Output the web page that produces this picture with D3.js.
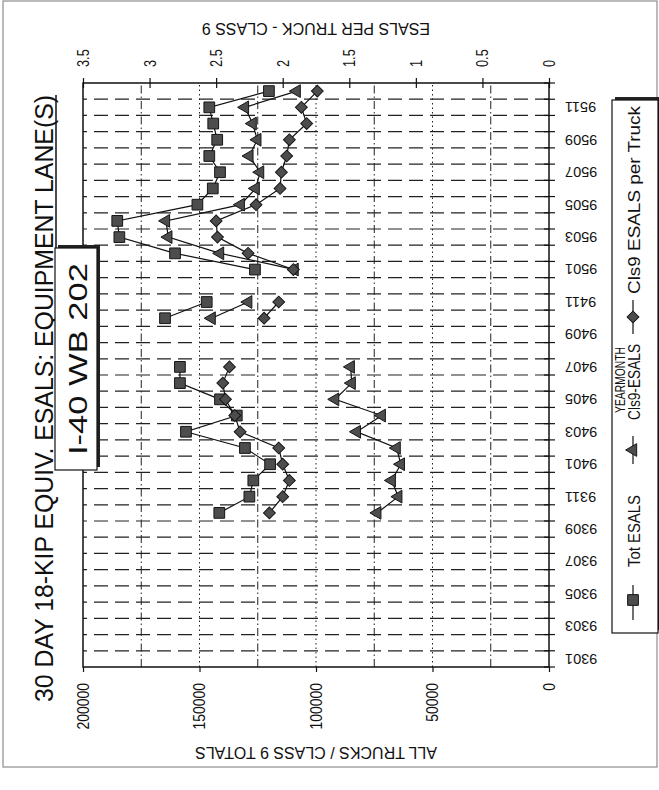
<!DOCTYPE html>
<html><head><meta charset="utf-8">
<script src="https://cdn.jsdelivr.net/npm/d3@7"></script>
<style>
body{margin:0;background:#fff}
svg{display:block}
text{font-family:"Liberation Sans",Arial,Helvetica,sans-serif;fill:#111}
</style>
</head><body>
<svg id="c" width="659" height="790"></svg>
<script>
// ---------------- DATA ----------------
const categories = ["9301","9302","9303","9304","9305","9306","9307","9308","9309","9310","9311","9312",
  "9401","9402","9403","9404","9405","9406","9407","9408","9409","9410","9411","9412",
  "9501","9502","9503","9504","9505","9506","9507","9508","9509","9510","9511","9512"];
const categoryTickLabels = ["9301","9303","9305","9307","9309","9311","9401","9403","9405","9407","9409","9411",
  "9501","9503","9505","9507","9509","9511"];
const totEsals = [null,null,null,null,null,null,null,null,null,141500,128600,126900,
  119700,130500,155800,134000,141200,158400,158400,null,null,164800,146900,null,
  126200,160500,184400,185300,150900,144300,141200,145800,142400,144100,145800,120200];
const cls9Esals = [null,null,null,null,null,null,null,null,null,73700,64700,67500,
  63600,65400,82500,71800,91800,84700,85100,null,null,144800,129100,null,
  109200,141200,163400,164400,132300,125900,124000,128600,125200,127200,130500,108300];
const cls9PerTruck = [null,null,null,null,null,null,null,null,null,2.10,2.00,1.95,
  2.00,2.03,2.32,2.36,2.43,2.45,2.40,null,null,2.14,2.03,null,
  1.92,2.26,2.49,2.50,2.20,2.02,2.01,1.97,1.95,1.82,1.86,1.74];
const leftTicks = [0,50000,100000,150000,200000];
const rightTicks = [0,0.5,1,1.5,2,2.5,3,3.5];
const titleMain = "30 DAY 18-KIP EQUIV. ESALS: ";
const titleUnder = "EQUIPMENT LANE(S)";
const subtitle = "I-40 WB 202";
const leftAxisTitle = "ALL TRUCKS / CLASS 9 TOTALS";
const rightAxisTitle = "ESALS PER TRUCK - CLASS 9";
const xAxisTitle = "YEARMONTH";
const legendNames = ["Tot ESALS","Cls9-ESALS","Cls9 ESALS per Truck"];

// ---------------- LAYOUT (chart drawn unrotated, then rotated -90deg) ----------------
const svg = d3.select("#c");
const g = svg.append("g").attr("transform","translate(0,790) rotate(-90)");
const P = {l:123, r:707, t:83, b:549};

// outer border
g.append("rect").attr("x",23).attr("y",3).attr("width",766).attr("height",654)
  .attr("fill","none").attr("stroke","#777").attr("stroke-width",1);

const x = d3.scaleBand().domain(categories).range([P.l,P.r]).padding(0);
const bw = x.bandwidth();
const yL = d3.scaleLinear().domain([0,200000]).range([P.b,P.t]);
const yR = d3.scaleLinear().domain([0,3.5]).range([P.b,P.t]);

// gridlines: category boundaries (dashed)
g.append("g").selectAll("line").data(categories.slice(1)).join("line")
  .attr("x1",d=>x(d)).attr("x2",d=>x(d)).attr("y1",P.b).attr("y2",P.t)
  .attr("stroke","#222").attr("stroke-width",1.2).attr("stroke-dasharray","14,7");
// gridlines: value (every 25000)
const gridVals = d3.range(1,8).map(k=>k*25000);
g.append("g").selectAll("line").data(gridVals).join("line")
  .attr("x1",P.l).attr("x2",P.r).attr("y1",d=>yL(d)).attr("y2",d=>yL(d))
  .attr("stroke","#222").attr("stroke-width",1)
  .attr("stroke-dasharray",d=> d%50000===0 ? "1.5,3" : "8,3,1.5,3");

// plot border
g.append("rect").attr("x",P.l).attr("y",P.t).attr("width",P.r-P.l).attr("height",P.b-P.t)
  .attr("fill","none").attr("stroke","#111").attr("stroke-width",1.5);

function condense(sel, f){ sel.each(function(){ const L=this.getComputedTextLength(); d3.select(this).attr("textLength",L*f).attr("lengthAdjust","spacingAndGlyphs"); }); }

// left axis
const axL = g.append("g").attr("transform",`translate(${P.l},0)`)
  .call(d3.axisLeft(yL).tickValues(leftTicks).tickSize(5).tickSizeOuter(0).tickPadding(11).tickFormat(d3.format("d")));
axL.select(".domain").remove();
axL.selectAll(".tick line").attr("stroke","#111").attr("stroke-width",1.2);
axL.selectAll(".tick text").style("font-size","17px").attr("fill","#111").call(condense,0.82);

// right axis
const axR = g.append("g").attr("transform",`translate(${P.r},0)`)
  .call(d3.axisRight(yR).tickValues(rightTicks).tickSize(5).tickSizeOuter(0).tickPadding(11).tickFormat(d=>String(d)));
axR.select(".domain").remove();
axR.selectAll(".tick line").attr("x1",-5).attr("stroke","#111").attr("stroke-width",1.2);
axR.selectAll(".tick text").style("font-size","17px").attr("fill","#111").call(condense,0.75);

// category axis
const axB = g.append("g").attr("transform",`translate(0,${P.b})`)
  .call(d3.axisBottom(x).tickSize(0).tickSizeOuter(0).tickFormat(d=> categoryTickLabels.includes(d)? d : ""));
axB.select(".domain").remove();
axB.selectAll(".tick text").attr("transform","rotate(-90)").attr("text-anchor","end")
  .attr("x",-16).attr("y",0).attr("dy","0.35em").style("font-size","14.5px").attr("fill","#111");
g.append("g").selectAll("line").data(categories.map(c=>x(c)).concat([P.r])).join("line")
  .attr("x1",d=>d).attr("x2",d=>d).attr("y1",P.b-5).attr("y2",P.b+6)
  .attr("stroke","#111").attr("stroke-width",1.2);

// axis titles
g.append("text").attr("transform",`translate(43,${(P.t+P.b)/2}) rotate(-90)`)
  .attr("text-anchor","middle").style("font-size","16px").text(leftAxisTitle);
g.append("text").attr("transform",`translate(767,${(P.t+P.b)/2}) rotate(-90)`)
  .attr("text-anchor","middle").style("font-size","16px").text(rightAxisTitle);

// series
const series = [
  {name:legendNames[0], values:totEsals, scale:yL, sym:"square"},
  {name:legendNames[1], values:cls9Esals, scale:yL, sym:"triangle"},
  {name:legendNames[2], values:cls9PerTruck, scale:yR, sym:"diamond"}
];
function symPath(s){
  if(s==="square") return d3.symbol(d3.symbolSquare,115)();
  if(s==="triangle") return d3.symbol(d3.symbolTriangle,70)();
  return d3.symbol(d3.symbolSquare,70)();
}
function symRot(s){ return s==="diamond" ? " rotate(45)" : ""; }
const MFILL="#4d4d4d", MSTROKE="#151515";
series.forEach(s=>{
  const pts = categories.map((c,i)=>({c, v:s.values[i]}));
  const line = d3.line().defined(d=>d.v!=null).x(d=>x(d.c)+bw/2).y(d=>s.scale(d.v));
  g.append("path").attr("d",line(pts)).attr("fill","none").attr("stroke","#111").attr("stroke-width",1.2);
});
series.forEach(s=>{
  const pts = categories.map((c,i)=>({c, v:s.values[i]})).filter(d=>d.v!=null);
  g.append("g").selectAll("path").data(pts).join("path")
    .attr("d",symPath(s.sym))
    .attr("transform",d=>`translate(${x(d.c)+bw/2},${s.scale(d.v)})${symRot(s.sym)}`)
    .attr("fill",MFILL).attr("stroke",MSTROKE).attr("stroke-width",1);
});

// title
const t = g.append("text").attr("x",88).attr("y",53).style("font-size","26px");
t.append("tspan").text(titleMain);
t.append("tspan").text(titleUnder);
t.attr("textLength",607).attr("lengthAdjust","spacingAndGlyphs");
{
  const node=t.node(); const n=(titleMain+titleUnder).length; const s0=titleMain.length;
  const a=node.getStartPositionOfChar(s0).x, b=node.getEndPositionOfChar(n-1).x;
  g.append("line").attr("x1",a).attr("x2",b).attr("y1",56).attr("y2",56).attr("stroke","#111").attr("stroke-width",1.5);
}

// subtitle box
g.append("rect").attr("x",323).attr("y",58).attr("width",222).attr("height",42).attr("fill","#222");
g.append("rect").attr("x",320).attr("y",55).attr("width",222).attr("height",42).attr("fill","#fff").attr("stroke","#111").attr("stroke-width",1.2);
g.append("text").attr("x",431).attr("y",87).attr("text-anchor","middle").style("font-size","25px")
  .attr("textLength",192).attr("lengthAdjust","spacingAndGlyphs").text(subtitle);

// legend
g.append("rect").attr("x",160).attr("y",615).attr("width",533).attr("height",46).attr("fill","#222");
g.append("rect").attr("x",157).attr("y",612).attr("width",533).attr("height",46).attr("fill","#fff").attr("stroke","#111").attr("stroke-width",1.2);
const legItems = [
  {s:series[0], lx:[170,205], mx:190, tx:223, tl:72},
  {s:series[1], lx:[326,354], mx:340, tx:370, tl:76},
  {s:series[2], lx:[456,490], mx:473, tx:496, tl:188}
];
const LY = 633;
legItems.forEach(it=>{
  g.append("line").attr("x1",it.lx[0]).attr("x2",it.lx[1]).attr("y1",LY).attr("y2",LY).attr("stroke","#111").attr("stroke-width",1.2);
  g.append("path").attr("d",symPath(it.s.sym)).attr("transform",`translate(${it.mx},${LY})${symRot(it.s.sym)}`)
    .attr("fill",MFILL).attr("stroke",MSTROKE);
  g.append("text").attr("x",it.tx).attr("y",640).style("font-size","17px")
    .attr("textLength",it.tl).attr("lengthAdjust","spacingAndGlyphs").text(it.s.name);
});
// category axis title (overlapping legend, as in the original)
g.append("text").attr("x",410).attr("y",625).attr("text-anchor","middle").style("font-size","14px")
  .attr("textLength",66).attr("lengthAdjust","spacingAndGlyphs").text(xAxisTitle);
</script>
</body></html>
